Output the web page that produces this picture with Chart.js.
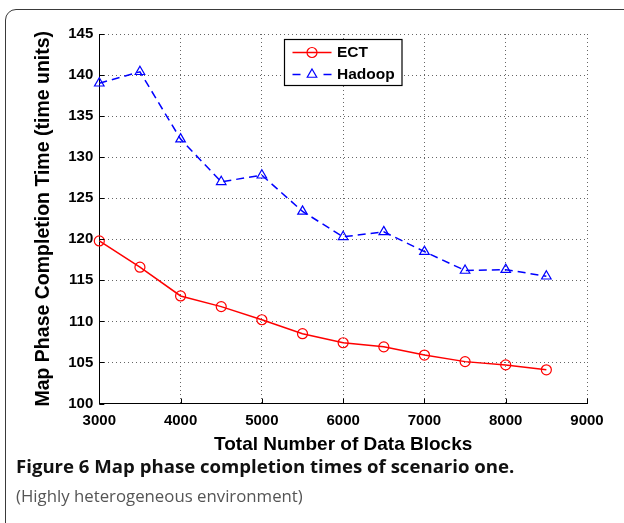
<!DOCTYPE html>
<html>
<head>
<meta charset="utf-8">
<script src="https://cdn.jsdelivr.net/npm/chart.js@4"></script>
<style>
  html, body { margin: 0; padding: 0; background: #fff; }
  body { width: 624px; height: 523px; position: relative; overflow: hidden; }
  #frame { position: absolute; left: 5px; top: 9px; width: 660px; height: 560px;
           border: 1.5px solid #3a3a3a; border-radius: 11px; box-sizing: border-box; }
  #c { position: absolute; left: 0; top: 0; }
  .cap1 { position: absolute; left: 16px; top: 454px; font-family: "Open Sans", sans-serif;
          font-weight: 700; font-size: 18.6px; line-height: 24px; color: #111; white-space: nowrap; }
  .cap2 { position: absolute; left: 16px; top: 485px; font-family: "Open Sans", sans-serif;
          font-weight: 400; font-size: 16.8px; line-height: 22px; color: #555; white-space: nowrap; }
</style>
</head>
<body>
<div id="frame"></div>
<canvas id="c" width="624" height="460"></canvas>
<div class="cap1">Figure 6 Map phase completion times of scenario one.</div>
<div class="cap2">(Highly heterogeneous environment)</div>
<script>
// ---- data ----
const dataBlocks = [3000, 3500, 4000, 4500, 5000, 5500, 6000, 6500, 7000, 7500, 8000, 8500];
const ectTimes    = [119.8, 116.6, 113.1, 111.8, 110.2, 108.5, 107.4, 106.9, 105.9, 105.1, 104.7, 104.1];
const hadoopTimes = [139.0, 140.4, 132.2, 127.0, 127.8, 123.4, 120.3, 120.9, 118.5, 116.2, 116.3, 115.5];
const seriesNames = ['ECT', 'Hadoop'];
const xTitle = 'Total Number of Data Blocks';
const yTitle = 'Map Phase Completion Time (time units)';
const xTickRange = [3000, 9000, 1000];
const yTickRange = [100, 145, 5];

const toPoints = (xs, ys) => xs.map((x, i) => ({ x: x, y: ys[i] }));

const tickFont = { family: 'Liberation Sans, Arial, sans-serif', weight: 'bold', size: 15 };
const xTitleFont = { family: 'Liberation Sans, Arial, sans-serif', weight: 'bold', size: 19 };
const yTitleFont = { family: 'Liberation Sans, Arial, sans-serif', weight: 'bold', size: 19.5 };

// inward ticks (MATLAB style) drawn from scale ticks
const inwardTicks = {
  id: 'inwardTicks',
  afterDraw(chart) {
    const { ctx, chartArea, scales } = chart;
    ctx.save();
    ctx.strokeStyle = '#000';
    ctx.lineWidth = 1;
    ctx.beginPath();
    scales.x.ticks.forEach(t => {
      const px = Math.round(scales.x.getPixelForValue(t.value)) + 0.5;
      ctx.moveTo(px, chartArea.bottom);
      ctx.lineTo(px, chartArea.bottom - 5);
    });
    scales.y.ticks.forEach(t => {
      const py = Math.round(scales.y.getPixelForValue(t.value)) + 0.5;
      ctx.moveTo(chartArea.left, py);
      ctx.lineTo(chartArea.left + 5, py);
    });
    ctx.stroke();
    ctx.restore();
  }
};

// boxed legend inside the plot
const boxLegend = {
  id: 'boxLegend',
  afterDraw(chart) {
    const { ctx } = chart;
    const bx = 284.5, by = 39.5, bw = 117.5, bh = 46;
    ctx.save();
    ctx.fillStyle = '#fff';
    ctx.fillRect(bx, by, bw, bh);
    ctx.strokeStyle = '#000';
    ctx.lineWidth = 1.2;
    ctx.strokeRect(bx, by, bw, bh);
    const rows = [52.5, 74.5];
    chart.data.datasets.forEach((ds, i) => {
      const y = rows[i];
      ctx.strokeStyle = ds.borderColor;
      ctx.lineWidth = ds.borderWidth;
      ctx.setLineDash([]);
      ctx.beginPath();
      if (ds.borderDash) {
        ctx.moveTo(292.5, y); ctx.lineTo(300.5, y);
        ctx.moveTo(323.5, y); ctx.lineTo(331.5, y);
      } else {
        ctx.moveTo(292.5, y); ctx.lineTo(331.5, y);
      }
      ctx.stroke();
      ctx.fillStyle = 'rgba(0,0,0,0)';
      ctx.strokeStyle = ds.borderColor;
      ctx.lineWidth = ds.pointBorderWidth;
      Chart.helpers.drawPoint(ctx, {
        pointStyle: ds.pointStyle, radius: ds.pointRadius, borderWidth: ds.pointBorderWidth, rotation: 0
      }, 312, y);
      ctx.fillStyle = '#000';
      ctx.font = 'bold 15.5px Liberation Sans, Arial, sans-serif';
      ctx.textBaseline = 'middle';
      ctx.textAlign = 'left';
      ctx.fillText(ds.label, 337, y + 0.5);
    });
    ctx.restore();
  }
};

new Chart(document.getElementById('c'), {
  type: 'line',
  data: {
    datasets: [
      {
        label: seriesNames[0],
        data: toPoints(dataBlocks, ectTimes),
        borderColor: '#ff0000',
        backgroundColor: 'rgba(0,0,0,0)',
        borderWidth: 1.5,
        pointStyle: 'circle',
        pointRadius: 5,
        pointBorderWidth: 1.2,
        pointBackgroundColor: 'rgba(0,0,0,0)',
        tension: 0,
        clip: false
      },
      {
        label: seriesNames[1],
        data: toPoints(dataBlocks, hadoopTimes),
        borderColor: '#0000ff',
        backgroundColor: 'rgba(0,0,0,0)',
        borderWidth: 1.5,
        borderDash: [8, 5],
        pointStyle: 'triangle',
        pointRadius: 5.5,
        pointBorderWidth: 1.2,
        pointBackgroundColor: 'rgba(0,0,0,0)',
        tension: 0,
        clip: false
      }
    ]
  },
  options: {
    responsive: false,
    animation: false,
    devicePixelRatio: 1,
    layout: { padding: { left: 0, right: 37, top: 34, bottom: 0 } },
    plugins: { legend: { display: false }, tooltip: { enabled: false } },
    scales: {
      x: {
        type: 'linear',
        min: xTickRange[0], max: xTickRange[1],
        ticks: { stepSize: xTickRange[2], color: '#000', font: tickFont, padding: 8,
                 maxRotation: 0, callback: v => String(v) },
        grid: { color: '#666', lineWidth: 1, drawTicks: false },
        border: { display: true, color: '#000', width: 1, dash: [1, 3] },
        title: { display: true, text: xTitle, color: '#000', font: xTitleFont, padding: { top: 6, bottom: 4 } },
        afterFit(scale) { scale.height = 56.5; }
      },
      y: {
        min: yTickRange[0], max: yTickRange[1],
        ticks: { stepSize: yTickRange[2], color: '#000', font: tickFont, padding: 6,
                 callback: v => String(v) },
        grid: { color: '#666', lineWidth: 1, drawTicks: false },
        border: { display: true, color: '#000', width: 1, dash: [1, 3] },
        title: { display: true, text: yTitle, color: '#000', font: yTitleFont, padding: { top: 31.5, bottom: 4 } },
        afterFit(scale) { scale.width = 99.3; }
      }
    }
  },
  plugins: [inwardTicks, boxLegend]
});
</script>
</body>
</html>
